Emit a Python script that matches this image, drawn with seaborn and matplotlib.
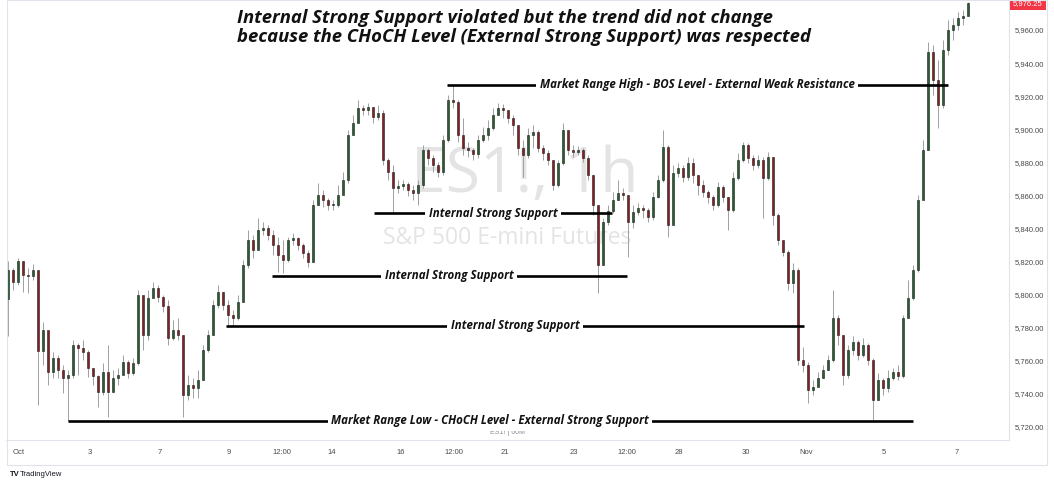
import numpy as np
import pandas as pd
import matplotlib
matplotlib.use("Agg")
import matplotlib.pyplot as plt
import seaborn as sns
from matplotlib.patches import Rectangle

# ES1! hourly chart, resampled by eye into ~3h candles
first_open = 5797.0

closes = [
    5815, 5807.5, 5820, 5812, 5811, 5815, 5766, 5778.5, 5753, 5761.5,
    5754.5, 5749.5, 5751.25, 5769.5, 5767.5, 5765.25, 5755.5, 5750.75, 5741, 5753,
    5741, 5749.5, 5751.25, 5759, 5752.5, 5758.5, 5799.75, 5775.5, 5798, 5804,
    5798.5, 5793, 5773.75, 5778.5, 5775.5, 5739.25, 5745.25, 5743.5, 5748.25, 5766.5,
    5775.5, 5793.5, 5801.5, 5793.5, 5787.5, 5785.75, 5795.5, 5817.75, 5833, 5827,
    5839, 5840.25, 5836, 5830, 5824, 5820.75, 5833, 5834.25, 5830, 5825,
    5819.5, 5854, 5860.25, 5857.25, 5854, 5854, 5860.25, 5869.25, 5896.5, 5903.75,
    5912.75, 5911.5, 5913.5, 5907.5, 5909.75, 5881.5, 5874, 5864.5, 5865.5, 5866.75,
    5863.25, 5861.5, 5866.25, 5887.5, 5882.5, 5878.25, 5874, 5893.5, 5917.75, 5916.5,
    5896.5, 5888.5, 5887.5, 5885, 5893.5, 5896.5, 5900.75, 5908.5, 5912.75, 5911.5,
    5906.75, 5902.5, 5888.5, 5884.5, 5896.5, 5898.25, 5888.5, 5885.5, 5881.5, 5866.25,
    5879.5, 5899.5, 5887.5, 5886.25, 5887.5, 5882.5, 5872.25, 5854, 5817.75, 5843.75,
    5850.5, 5857.25, 5861.5, 5860.25, 5843.75, 5850, 5852.25, 5851, 5847, 5859,
    5869.25, 5889.25, 5842, 5873.5, 5876.5, 5871, 5879.5, 5872.25, 5866.25, 5862,
    5859, 5854, 5865, 5859, 5851, 5870.5, 5881.5, 5890.5, 5882.5, 5878.25,
    5881.5, 5870.5, 5883.25, 5848, 5833, 5825.75, 5807, 5814.75, 5760.5, 5757.25,
    5742.25, 5744, 5749.5, 5754.25, 5760.5, 5785.75, 5775.5, 5751.25, 5766.5, 5771.25,
    5763.5, 5769.5, 5760.5, 5736.25, 5748.25, 5743.5, 5749.5, 5753, 5750.75, 5785.75,
    5798, 5814.75, 5857.25, 5887.5, 5946.75, 5929.75, 5914.5, 5948, 5960, 5963,
    5967.25, 5968.5, 5976.25,
]

highs = [
    5820, 5816, 5822, 5820, 5816, 5818.5, 5814, 5783.25, 5767.5, 5765.25,
    5763.5, 5757.25, 5754.25, 5772.5, 5770.5, 5772.5, 5766.5, 5755.5, 5751.25, 5758.5,
    5769.5, 5754.25, 5755.5, 5763.5, 5760.5, 5761.5, 5802.75, 5796.5, 5802.75, 5807.5,
    5805.75, 5799.75, 5796.5, 5784.5, 5785.75, 5775.5, 5751.25, 5749.5, 5754.25, 5769.5,
    5778.5, 5796.5, 5805.75, 5801.5, 5796.5, 5790.5, 5799.75, 5820.75, 5839, 5836,
    5846.25, 5843.75, 5842, 5839, 5834.75, 5833, 5834.75, 5837.25, 5834.75, 5831,
    5827, 5857.25, 5867.5, 5863.25, 5858.5, 5857.25, 5866.25, 5874, 5899.5, 5908.5,
    5917.75, 5914.5, 5915.75, 5913.5, 5914.5, 5911.5, 5882.5, 5878.25, 5869.25, 5869.25,
    5868, 5866.25, 5869.25, 5890.5, 5888.5, 5884.5, 5880.25, 5896.5, 5920.75, 5926.75,
    5917.75, 5906.75, 5892.25, 5888.5, 5896.5, 5901.25, 5905.5, 5912.75, 5915.75, 5915.25,
    5911.5, 5908.5, 5902.5, 5893.5, 5900.75, 5902.5, 5899.5, 5890.5, 5887.5, 5881.5,
    5881.5, 5903.75, 5899.5, 5890.5, 5889.75, 5888.5, 5884.5, 5872.25, 5854, 5846.25,
    5854, 5862, 5869.25, 5864.5, 5860.25, 5854, 5855.25, 5854, 5852.25, 5862,
    5872.25, 5899.5, 5890.5, 5878.25, 5879.5, 5878.25, 5883.25, 5882.5, 5872.25, 5869.25,
    5863.25, 5860.25, 5868, 5866.25, 5858.75, 5874, 5885.5, 5892.25, 5891.75, 5884.5,
    5884.5, 5883.25, 5886.25, 5872.25, 5849.25, 5833, 5827, 5819, 5816, 5768.25,
    5759, 5748.25, 5753, 5757.25, 5763.5, 5802.75, 5787.5, 5775.5, 5769.5, 5775,
    5772.5, 5773.75, 5770.5, 5761.5, 5752.5, 5749.5, 5754.25, 5755.5, 5757.25, 5787.5,
    5808.75, 5817.75, 5860.25, 5893.5, 5952.75, 5951, 5942, 5954, 5966, 5967.25,
    5971, 5972, 5977,
]

lows = [
    5775, 5803, 5806, 5801.5, 5801, 5809, 5733, 5757.25, 5745.25, 5749.5,
    5749.5, 5740.5, 5723.5, 5749.5, 5751.25, 5760.5, 5750, 5745.25, 5732, 5739.25,
    5726, 5742.25, 5745.25, 5753, 5749.5, 5751.25, 5757.25, 5766.5, 5772.5, 5798,
    5795.5, 5789.5, 5769.5, 5772.5, 5772.5, 5726, 5736.25, 5737.5, 5737.5, 5748.25,
    5765.25, 5775.5, 5791.75, 5790.5, 5781.5, 5781, 5784.5, 5796.5, 5816, 5822,
    5830, 5836, 5833, 5824, 5813.5, 5813, 5819.5, 5830, 5827, 5822,
    5816.5, 5819.5, 5854, 5853, 5851, 5851, 5853, 5862, 5867.5, 5896.5,
    5905.5, 5908.5, 5908.5, 5903.75, 5905.5, 5878.25, 5869.25, 5849.25, 5861.5, 5863.25,
    5859.5, 5857.25, 5854, 5864.5, 5878.25, 5874, 5871, 5872.25, 5892.25, 5912.75,
    5892.25, 5884.5, 5883.25, 5881.5, 5882.5, 5892.25, 5893.5, 5899.5, 5908.5, 5906.75,
    5903.75, 5896.5, 5884.5, 5871, 5882.5, 5888.5, 5886.25, 5881.5, 5878.25, 5863.25,
    5865, 5878.25, 5884.5, 5883.25, 5884.5, 5880.25, 5869.25, 5848, 5801, 5817.75,
    5842, 5849.25, 5857.25, 5857.25, 5822.75, 5840.25, 5848, 5846.25, 5843.75, 5845,
    5858.5, 5868, 5834.75, 5854, 5871, 5868, 5869.25, 5867.5, 5860.25, 5859,
    5855.25, 5851, 5853, 5856, 5839, 5850, 5869.25, 5880.25, 5879.5, 5875.25,
    5876.5, 5846.25, 5869.25, 5842, 5830, 5823.25, 5802.75, 5801, 5757.25, 5753,
    5734.25, 5739.25, 5745.25, 5749.5, 5754.25, 5759, 5769.5, 5745.25, 5749.5, 5763.5,
    5760.5, 5762.25, 5757.25, 5724, 5736.25, 5739.25, 5741, 5748.25, 5748.25, 5749.5,
    5793.5, 5796.5, 5813.5, 5866.25, 5900.75, 5920.75, 5900.75, 5912.75, 5945, 5954,
    5960, 5963, 5969,
]

tick_labels = ["Oct", "3", "7", "9", "12:00", "14", "16", "12:00",
               "21", "23", "12:00", "28", "30", "Nov", "5", "7"]
tick_pos = [2.2, 16.4, 30.4, 44.2, 54.8, 64.8, 78.6, 89.2,
            99.4, 113.2, 123.8, 134.2, 147.6, 159.6, 175.2, 189.8]

price_ticks = [5720, 5740, 5760, 5780, 5800, 5820, 5840, 5860, 5880, 5900, 5920, 5940, 5960]
last_price = 5976.25

level_names = [
    "Market Range High - BOS Level - External Weak Resistance",
    "Internal Strong Support",
    "Internal Strong Support",
    "Internal Strong Support",
    "Market Range Low - CHoCH Level - External Strong Support",
]
level_prices = [5927, 5849.25, 5811.25, 5781, 5723.5]
level_start = [87.8, 73.2, 52.8, 43.6, 12.0]
level_end = [188.0, 120.8, 123.8, 159.2, 181.0]
level_text_at = [137.8, 97.0, 88.2, 101.4, 96.4]

title_lines = [
    "Internal Strong Support violated but the trend did not change",
    "because the CHoCH Level (External Strong Support) was respected",
]

df = pd.DataFrame({"close": closes, "high": highs, "low": lows})
df["open"] = [first_open] + closes[:-1]
df["up"] = df["close"] >= df["open"]

sns.set_theme(style="white")
plt.rcParams["font.family"] = ["Liberation Sans", "DejaVu Sans"]
label_font = ["Open Sans", "DejaVu Sans"]

W, H = 1054, 486
fig = plt.figure(figsize=(W / 100, H / 100), dpi=100)
fig.patch.set_facecolor("white")

# main panel: x 6..1009 px, y 0..440 px
ax = fig.add_axes([6 / W, 1 - 440 / H, (1009 - 6) / W, 440 / H])
ax.set_facecolor("white")
ax.set_xlim(-0.4, 200.2)
ax.set_ylim(5712.0, 5978.15)

# wicks
ax.vlines(df.index, df["low"], df["high"], color="#a0a0a0", lw=0.7, zorder=1)

# bodies
bottoms = np.minimum(df["open"], df["close"])
heights = np.maximum((df["close"] - df["open"]).abs(), 0.6)
colors = np.where(df["up"], "#26602e", "#8c1c24")
ax.bar(df.index, heights, bottom=bottoms, width=0.5, color=colors,
       edgecolor="#1a1a1a", linewidth=0.4, zorder=2)

# watermark
ax.text(0.517, 0.6, "ES1!, 1h", transform=ax.transAxes, ha="center", va="center",
        fontsize=45, color="#e4e4e4", family=label_font, zorder=0)
ax.text(0.5, 0.459, "S&P 500 E-mini Futures", transform=ax.transAxes, ha="center",
        va="center", fontsize=16.5, color="#e4e4e4", family=label_font, zorder=0)
ax.text(0.5, 0.016, "ES1! | 60M", transform=ax.transAxes, ha="center", va="center",
        fontsize=5, color="#8a8d96")

# levels
ax.hlines(level_prices, level_start, level_end, colors="black", lw=1.9, zorder=3)
for name, price, xt in zip(level_names, level_prices, level_text_at):
    ax.text(xt, price, name, ha="center", va="center", fontsize=8.3,
            fontstyle="italic", fontweight="bold", color="#111111",
            family=label_font, zorder=4,
            bbox=dict(boxstyle="square,pad=0.28", fc="white", ec="none"))

# axes styling
sns.despine(ax=ax, left=True, top=True, right=False, bottom=False)
for side in ["right", "bottom"]:
    ax.spines[side].set_color("#e0e3eb")
    ax.spines[side].set_linewidth(0.8)
ax.yaxis.tick_right()
ax.set_yticks(price_ticks)
ax.set_yticklabels([f"{v:,.2f}" for v in price_ticks])
ax.tick_params(axis="y", length=0, pad=4, labelsize=5.5, colors="#4a4a4a")
ax.set_xticks(tick_pos)
ax.set_xticklabels(tick_labels)
ax.tick_params(axis="x", length=0, pad=6.5, labelsize=5.5, colors="#4a4a4a")
ax.grid(False)

# last price tag
ax.text(1.004, last_price, f"{last_price:,.2f}", transform=ax.get_yaxis_transform(),
        ha="left", va="center", fontsize=5.5, color="white", zorder=5,
        bbox=dict(boxstyle="square,pad=0.45", fc="#f23645", ec="none"), clip_on=False)

# outer frame of the chart
fig.patches.append(Rectangle((7 / W, 1 - 465 / H), (1047 - 7) / W, 465 / H,
                             fill=False, ec="#e0e3eb", lw=0.8, transform=fig.transFigure))

# title
for i, line in enumerate(title_lines):
    fig.text(237 / W, 1 - (18 + 19 * i) / H, line, ha="left", va="center",
             fontsize=13.3, fontstyle="italic", fontweight="bold", color="#111111",
             family=label_font)

# footer logo
fig.text(10 / W, 1 - 474 / H, "TV", ha="left", va="center", fontsize=5.5,
         fontweight="bold", color="#131722")
fig.text(20 / W, 1 - 474 / H, "TradingView", ha="left", va="center", fontsize=5.5,
         color="#131722")

fig.savefig("out.png", dpi=100)
